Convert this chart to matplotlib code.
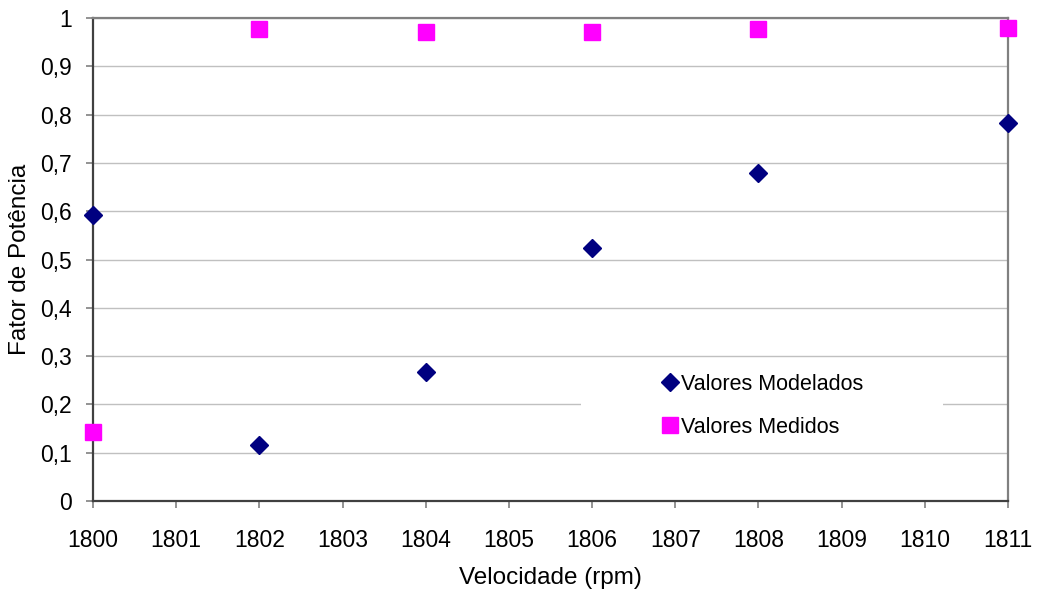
import matplotlib.pyplot as plt
from matplotlib.patches import Rectangle

plt.rcParams['font.family'] = ['Liberation Sans', 'DejaVu Sans']

# Dados
velocidade = [1800, 1802, 1804, 1806, 1808, 1811]
modelados = [0.593, 0.116, 0.268, 0.523, 0.680, 0.782]
medidos = [0.143, 0.978, 0.970, 0.972, 0.977, 0.980]

x_ticks = list(range(1800, 1812))
y_ticks = [0, 0.1, 0.2, 0.3, 0.4, 0.5, 0.6, 0.7, 0.8, 0.9, 1]
y_labels = ['0', '0,1', '0,2', '0,3', '0,4', '0,5', '0,6', '0,7', '0,8', '0,9', '1']

fig = plt.figure(figsize=(10.39, 5.97), dpi=100)
ax = fig.add_axes([93 / 1039, 96 / 597, 915 / 1039, 483 / 597])

ax.plot(velocidade, modelados, 'D', color='#000080', markersize=9.5,
        linestyle='none', label='Valores Modelados', zorder=5, clip_on=False)
ax.plot(velocidade, medidos, 's', color='#FF00FF', markersize=11,
        linestyle='none', label='Valores Medidos', zorder=5, clip_on=False)

ax.set_xlim(1800, 1811)
ax.set_ylim(0, 1)
ax.set_xticks(x_ticks)
ax.set_yticks(y_ticks)
ax.set_yticklabels(y_labels)
ax.tick_params(axis='both', labelsize=16.5, direction='out', length=5,
               color='#808080', width=1.2)
ax.tick_params(axis='x', pad=15)
ax.tick_params(axis='y', pad=10)

ax.yaxis.grid(True, color='#C0C0C0', linewidth=1)
ax.set_axisbelow(True)

ax.spines['left'].set_color('#404040')
ax.spines['bottom'].set_color('#404040')
ax.spines['left'].set_linewidth(1.6)
ax.spines['bottom'].set_linewidth(1.6)
ax.spines['top'].set_color('#808080')
ax.spines['right'].set_color('#808080')
ax.spines['top'].set_linewidth(1.6)
ax.spines['right'].set_linewidth(1.6)

ax.set_xlabel('Velocidade (rpm)', fontsize=17.5, labelpad=11)
ax.set_ylabel('Fator de Potência', fontsize=17.5, labelpad=7)

# caixa branca da legenda
ax.add_patch(Rectangle((0.533, 0.102), 0.396, 0.195, transform=ax.transAxes,
                       facecolor='white', edgecolor='none', zorder=1))
ax.legend(loc='upper left', bbox_to_anchor=(0.6, 0.303), frameon=False,
          fontsize=15.5, handlelength=0.8, handletextpad=0.1, labelspacing=1.0)

plt.savefig('out.png', dpi=100)
